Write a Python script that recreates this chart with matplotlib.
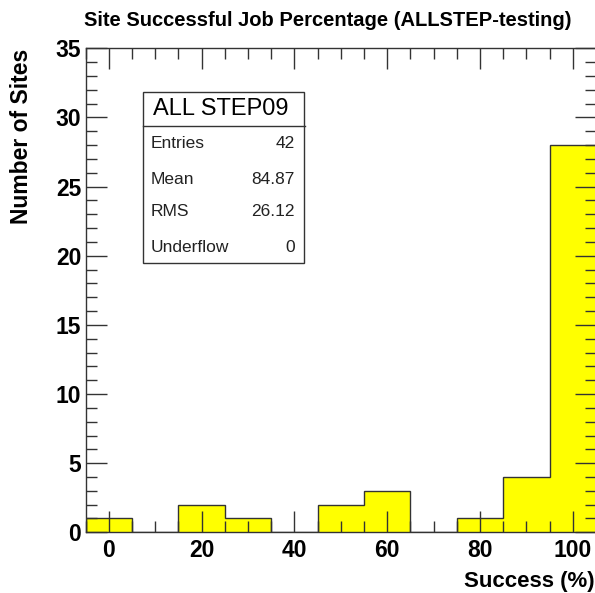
import matplotlib
matplotlib.use("Agg")
import matplotlib.pyplot as plt
import numpy as np
from matplotlib.patches import Rectangle
from matplotlib.lines import Line2D
from matplotlib.ticker import MultipleLocator

plt.rcParams['font.family'] = ['Liberation Sans', 'DejaVu Sans']

# histograma: bins de ancho 10 centrados en 0, 10, ..., 100
bordes = np.arange(-5, 106, 10)
cuentas = [1, 0, 2, 1, 0, 2, 3, 0, 1, 4, 28]

# caja de estadisticas
nombre_hist = 'ALL STEP09'
stat_nombres = ['Entries', 'Mean', 'RMS', 'Underflow']
stat_valores = ['42', '84.87', '26.12', '0']

W, H = 595, 593
fig = plt.figure(figsize=(W / 100, H / 100), dpi=100)

# ejes en pixeles
x0, x1 = 85.5, 596.0
y0, y1 = 532.3, 48.3
ax = fig.add_axes([x0 / W, 1 - y0 / H, (x1 - x0) / W, (y0 - y1) / H])

ax.stairs(cuentas, bordes, fill=True, facecolor='#ffff00',
          edgecolor='#333333', linewidth=1.0, zorder=1)

ax.set_xlim(-5, 105)
ax.set_ylim(0, 35)

ax.xaxis.set_major_locator(MultipleLocator(20))
ax.xaxis.set_minor_locator(MultipleLocator(5))
ax.yaxis.set_major_locator(MultipleLocator(5))
ax.yaxis.set_minor_locator(MultipleLocator(1))
ax.tick_params(which='both', direction='in', top=True, right=True,
               color='#333333', width=1.0)
ax.tick_params(which='major', length=15, labelsize=16.5, pad=3)
ax.tick_params(axis='x', which='major', pad=5)
ax.tick_params(which='minor', length=8)
for lbl in ax.get_xticklabels() + ax.get_yticklabels():
    lbl.set_fontweight('bold')
for s in ax.spines.values():
    s.set_color('#333333')
    s.set_linewidth(1.0)

fig.text(328 / W, 1 - 20 / H, 'Site Successful Job Percentage (ALLSTEP-testing)',
         ha='center', va='center', fontsize=14.5, fontweight='bold')
fig.text(22 / W, 1 - 49 / H, 'Number of Sites', rotation=90, ha='center',
         va='top', fontsize=16.5, fontweight='bold')
fig.text(595 / W, 1 - 581 / H, 'Success (%)', ha='right', va='center',
         fontsize=16, fontweight='bold')

# caja de estadisticas (en pixeles de la figura)
bx0, bx1, by0, by1, bsep = 143, 304.5, 91.7, 262.7, 126
fig.patches.append(Rectangle((bx0 / W, 1 - by1 / H), (bx1 - bx0) / W,
                             (by1 - by0) / H, transform=fig.transFigure,
                             facecolor='white', edgecolor='#333333',
                             linewidth=1.0, zorder=5))
fig.lines.append(Line2D([bx0 / W, bx1 / W], [1 - bsep / H, 1 - bsep / H],
                        transform=fig.transFigure, color='#333333',
                        linewidth=1.0, zorder=6))
fig.text(221 / W, 1 - 109 / H, nombre_hist, ha='center',
         va='center', fontsize=17, zorder=7)
filas_y = [144, 179, 212, 247]
for nom, val, fy in zip(stat_nombres, stat_valores, filas_y):
    fig.text(151 / W, 1 - fy / H, nom, ha='left', va='center',
             fontsize=12.5, color='#222222', zorder=7)
    fig.text(295 / W, 1 - fy / H, val, ha='right', va='center',
             fontsize=12.5, color='#222222', zorder=7)

fig.savefig('out.png', dpi=100)
